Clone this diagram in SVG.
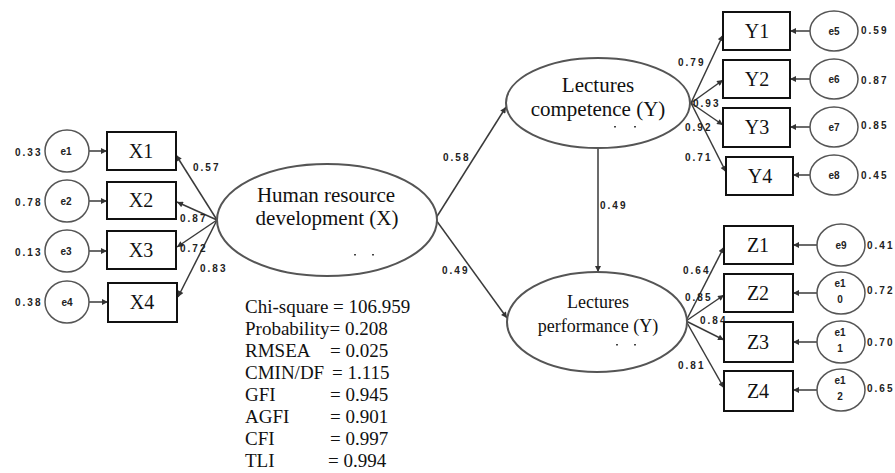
<svg xmlns="http://www.w3.org/2000/svg" width="895" height="473" viewBox="0 0 895 473">
<defs>
<marker id="ah" viewBox="0 0 10 10" refX="10" refY="5" markerWidth="7" markerHeight="6" markerUnits="userSpaceOnUse" orient="auto"><path d="M0,0 L10,5 L0,10 z" fill="#333"/></marker>
</defs>
<style>
.box{fill:#fff;stroke:#111;stroke-width:2}
.err{fill:#fff;stroke:#555;stroke-width:1.5}
.lat{fill:#fff;stroke:#555;stroke-width:2}
.bt{font-family:"Liberation Serif","Times New Roman",serif;font-size:20px;fill:#111;text-anchor:middle}
.et{font-family:"Liberation Sans",Arial,sans-serif;font-size:10px;font-weight:bold;fill:#222;text-anchor:middle}
.lt{font-family:"Liberation Serif","Times New Roman",serif;font-size:21px;fill:#111;text-anchor:middle}
.lt2{font-family:"Liberation Serif","Times New Roman",serif;font-size:18px;fill:#111;text-anchor:middle}
.cl{font-family:"Liberation Sans",Arial,sans-serif;font-size:10px;font-weight:bold;fill:#222;letter-spacing:2px}
.st{font-family:"Liberation Serif","Times New Roman",serif;font-size:19px;fill:#111}
.c{stroke:#3a3a3a;stroke-width:1.5;fill:none;marker-end:url(#ah)}
.dot{fill:#444}
</style>
<rect width="895" height="473" fill="#fff"/>

<g id="connectors">
<line class="c" x1="217" y1="220" x2="176" y2="155"/>
<line class="c" x1="217" y1="220" x2="177" y2="202"/>
<line class="c" x1="217" y1="220" x2="177" y2="247"/>
<line class="c" x1="217" y1="220" x2="178" y2="297"/>
<line class="c" x1="89" y1="151" x2="107" y2="151"/>
<line class="c" x1="89" y1="201" x2="107" y2="201"/>
<line class="c" x1="89" y1="251" x2="107" y2="251"/>
<line class="c" x1="89" y1="302" x2="108" y2="302"/>
<line class="c" x1="436" y1="218" x2="506" y2="107"/>
<line class="c" x1="436" y1="220" x2="507" y2="318"/>
<line class="c" x1="598" y1="148" x2="598" y2="272"/>
<line class="c" x1="691" y1="103" x2="723" y2="35"/>
<line class="c" x1="691" y1="103" x2="723" y2="80"/>
<line class="c" x1="691" y1="103" x2="723" y2="125"/>
<line class="c" x1="691" y1="103" x2="726" y2="172"/>
<line class="c" x1="686" y1="321" x2="724" y2="247"/>
<line class="c" x1="686" y1="321" x2="724" y2="295"/>
<line class="c" x1="686" y1="321" x2="724" y2="340"/>
<line class="c" x1="686" y1="321" x2="724" y2="388"/>
<line class="c" x1="810" y1="31" x2="790" y2="31"/>
<line class="c" x1="810" y1="79" x2="790" y2="79"/>
<line class="c" x1="810" y1="127" x2="790" y2="127"/>
<line class="c" x1="810" y1="175" x2="793" y2="175"/>
<line class="c" x1="817" y1="245" x2="793" y2="245"/>
<line class="c" x1="817" y1="293" x2="793" y2="293"/>
<line class="c" x1="817" y1="342" x2="793" y2="342"/>
<line class="c" x1="817" y1="390" x2="793" y2="390"/>
</g>

<g id="coef-labels">
<text class="cl" x="193" y="171">0.57</text>
<text class="cl" x="180" y="222">0.87</text>
<text class="cl" x="180" y="252">0.72</text>
<text class="cl" x="200" y="272">0.83</text>
<text class="cl" x="443" y="161">0.58</text>
<text class="cl" x="442" y="274">0.49</text>
<text class="cl" x="600" y="209">0.49</text>
<text class="cl" x="678" y="66">0.79</text>
<text class="cl" x="693" y="107">0.93</text>
<text class="cl" x="685" y="131">0.92</text>
<text class="cl" x="685" y="161">0.71</text>
<text class="cl" x="683" y="274">0.64</text>
<text class="cl" x="685" y="301">0.85</text>
<text class="cl" x="700" y="324">0.84</text>
<text class="cl" x="678" y="369">0.81</text>
<text class="cl" x="15" y="156">0.33</text>
<text class="cl" x="15" y="206">0.78</text>
<text class="cl" x="15" y="256">0.13</text>
<text class="cl" x="15" y="306">0.38</text>
<text class="cl" x="861" y="34">0.59</text>
<text class="cl" x="861" y="84">0.87</text>
<text class="cl" x="861" y="129">0.85</text>
<text class="cl" x="861" y="179">0.45</text>
<text class="cl" x="867" y="249">0.41</text>
<text class="cl" x="867" y="294">0.72</text>
<text class="cl" x="867" y="346">0.70</text>
<text class="cl" x="867" y="392">0.65</text>
</g>

<g id="X">
<ellipse class="lat" cx="327" cy="220" rx="110" ry="56"/>
<text class="lt" x="326" y="202">Human resource</text>
<text class="lt" x="327" y="225">development (X)</text>
<rect class="dot" x="354" y="254" width="2" height="1.5"/><rect class="dot" x="372" y="254" width="2" height="1.5"/>
</g>
<g id="Yc">
<ellipse class="lat" cx="598" cy="103" rx="92" ry="45"/>
<text class="lt" x="598" y="92">Lectures</text>
<text class="lt" x="598" y="116">competence (Y)</text>
<rect class="dot" x="614" y="126" width="2" height="1.5"/><rect class="dot" x="634" y="126" width="2" height="1.5"/>
</g>
<g id="Zp">
<ellipse class="lat" cx="597" cy="322" rx="90" ry="50"/>
<text class="lt2" x="598" y="308">Lectures</text>
<text class="lt2" x="598" y="332">performance (Y)</text>
<rect class="dot" x="616" y="344" width="2" height="1.5"/><rect class="dot" x="634" y="344" width="2" height="1.5"/>
</g>

<g id="X1"><rect class="box" x="107" y="132" width="69" height="38"/><text class="bt" x="141" y="158">X1</text></g>
<g id="X2"><rect class="box" x="107" y="182" width="69" height="37"/><text class="bt" x="141" y="207">X2</text></g>
<g id="X3"><rect class="box" x="107" y="231" width="69" height="38"/><text class="bt" x="141" y="257">X3</text></g>
<g id="X4"><rect class="box" x="108" y="283" width="69" height="39"/><text class="bt" x="142" y="309">X4</text></g>

<g id="e1"><ellipse class="err" cx="67" cy="151" rx="22" ry="21"/><text class="et" x="66" y="155">e1</text></g>
<g id="e2"><ellipse class="err" cx="67" cy="201" rx="22" ry="21"/><text class="et" x="66" y="205">e2</text></g>
<g id="e3"><ellipse class="err" cx="67" cy="251" rx="22" ry="21"/><text class="et" x="66" y="255">e3</text></g>
<g id="e4"><ellipse class="err" cx="67" cy="302" rx="22" ry="21"/><text class="et" x="67" y="306">e4</text></g>

<g id="Y1"><rect class="box" x="723" y="12" width="67" height="38"/><text class="bt" x="757" y="38">Y1</text></g>
<g id="Y2"><rect class="box" x="723" y="60" width="67" height="38"/><text class="bt" x="757" y="86">Y2</text></g>
<g id="Y3"><rect class="box" x="723" y="108" width="67" height="39"/><text class="bt" x="757" y="134">Y3</text></g>
<g id="Y4"><rect class="box" x="726" y="157" width="67" height="38"/><text class="bt" x="760" y="183">Y4</text></g>

<g id="e5"><ellipse class="err" cx="834" cy="31" rx="24" ry="20"/><text class="et" x="834" y="35">e5</text></g>
<g id="e6"><ellipse class="err" cx="834" cy="79" rx="24" ry="20"/><text class="et" x="834" y="83">e6</text></g>
<g id="e7"><ellipse class="err" cx="834" cy="127" rx="24" ry="20"/><text class="et" x="834" y="131">e7</text></g>
<g id="e8"><ellipse class="err" cx="834" cy="175" rx="24" ry="20"/><text class="et" x="834" y="179">e8</text></g>

<g id="Z1"><rect class="box" x="724" y="226" width="69" height="38"/><text class="bt" x="758" y="252">Z1</text></g>
<g id="Z2"><rect class="box" x="724" y="274" width="69" height="38"/><text class="bt" x="758" y="300">Z2</text></g>
<g id="Z3"><rect class="box" x="724" y="322" width="69" height="40"/><text class="bt" x="758" y="349">Z3</text></g>
<g id="Z4"><rect class="box" x="724" y="371" width="69" height="40"/><text class="bt" x="758" y="398">Z4</text></g>

<g id="e9"><ellipse class="err" cx="841" cy="245" rx="24" ry="21"/><text class="et" x="841" y="249">e9</text></g>
<g id="e10"><ellipse class="err" cx="841" cy="293" rx="24" ry="21"/><text class="et" x="840" y="287">e1</text><text class="et" x="840" y="303">0</text></g>
<g id="e11"><ellipse class="err" cx="841" cy="342" rx="24" ry="21"/><text class="et" x="840" y="336">e1</text><text class="et" x="840" y="352">1</text></g>
<g id="e12"><ellipse class="err" cx="841" cy="390" rx="24" ry="21"/><text class="et" x="840" y="384">e1</text><text class="et" x="840" y="400">2</text></g>

<g id="fit-stats">
<text class="st" x="245" y="313">Chi-square =  106.959</text>
<text class="st" x="245" y="335">Probability= 0.208</text>
<text class="st" x="245" y="357">RMSEA</text><text class="st" x="330" y="357">= 0.025</text>
<text class="st" x="245" y="379">CMIN/DF</text><text class="st" x="332" y="379">= 1.115</text>
<text class="st" x="245" y="401">GFI</text><text class="st" x="330" y="401">= 0.945</text>
<text class="st" x="245" y="423">AGFI</text><text class="st" x="330" y="423">= 0.901</text>
<text class="st" x="245" y="445">CFI</text><text class="st" x="330" y="445">= 0.997</text>
<text class="st" x="245" y="467">TLI</text><text class="st" x="328" y="467">= 0.994</text>
</g>
</svg>
